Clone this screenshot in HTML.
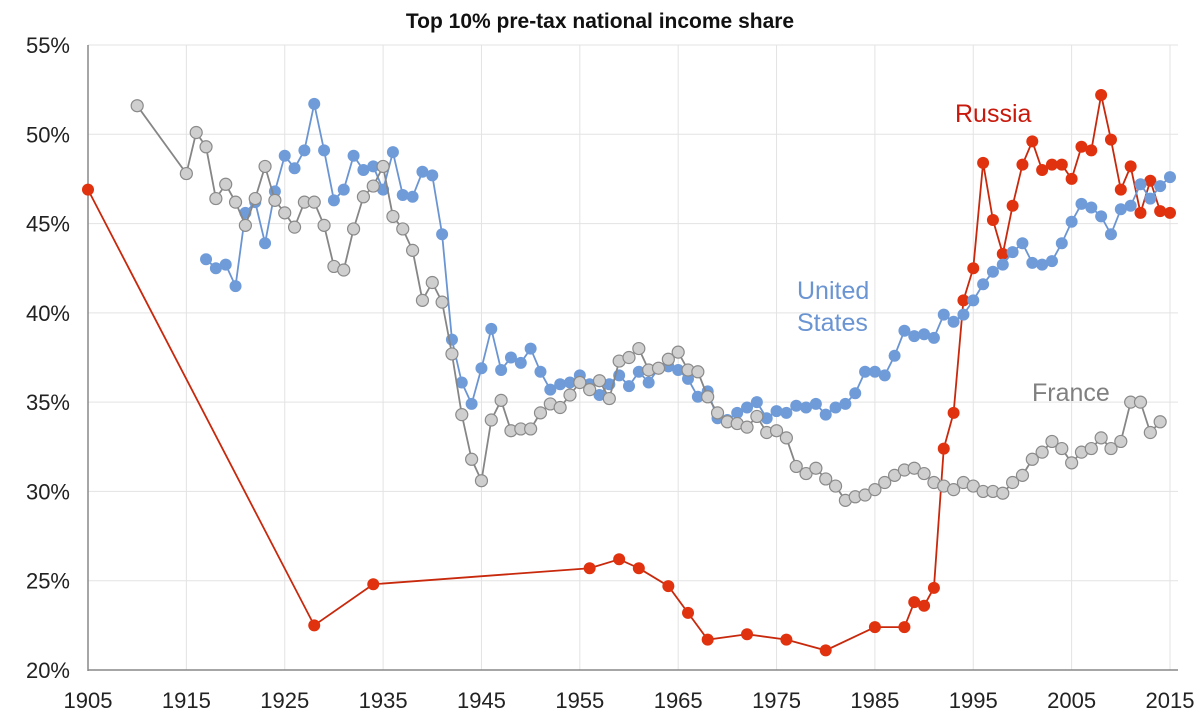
<!DOCTYPE html>
<html><head><meta charset="utf-8"><style>
html,body{margin:0;padding:0;background:#fff;}
svg{display:block;font-family:"Liberation Sans",Arial,sans-serif;}
</style></head><body>
<svg id="chart" width="1200" height="728" viewBox="0 0 1200 728">
<text x="600" y="28" text-anchor="middle" font-size="21" font-weight="bold" fill="#111">Top 10% pre-tax national income share</text>
<g id="grid"></g><g id="axes"></g><g id="series"></g>
<text x="955" y="122" font-size="25" fill="#c8190c">Russia</text>
<text x="797" y="299" font-size="25" fill="#6b95d2">United</text>
<text x="797" y="331" font-size="25" fill="#6b95d2">States</text>
<text x="1032" y="401" font-size="25" fill="#808080">France</text>
</svg>
<script>
const xTicks=[1905,1915,1925,1935,1945,1955,1965,1975,1985,1995,2005,2015];
const yTicks=[20,25,30,35,40,45,50,55];
const usYears=[1917,1918,1919,1920,1921,1922,1923,1924,1925,1926,1927,1928,1929,1930,1931,1932,1933,1934,1935,1936,1937,1938,1939,1940,1941,1942,1943,1944,1945,1946,1947,1948,1949,1950,1951,1952,1953,1954,1955,1956,1957,1958,1959,1960,1961,1962,1963,1964,1965,1966,1967,1968,1969,1970,1971,1972,1973,1974,1975,1976,1977,1978,1979,1980,1981,1982,1983,1984,1985,1986,1987,1988,1989,1990,1991,1992,1993,1994,1995,1996,1997,1998,1999,2000,2001,2002,2003,2004,2005,2006,2007,2008,2009,2010,2011,2012,2013,2014,2015];
const usValues=[43.0,42.5,42.7,41.5,45.6,46.2,43.9,46.8,48.8,48.1,49.1,51.7,49.1,46.3,46.9,48.8,48.0,48.2,46.9,49.0,46.6,46.5,47.9,47.7,44.4,38.5,36.1,34.9,36.9,39.1,36.8,37.5,37.2,38.0,36.7,35.7,36.0,36.1,36.5,36.0,35.4,36.0,36.5,35.9,36.7,36.1,36.9,37.0,36.8,36.3,35.3,35.6,34.1,34.0,34.4,34.7,35.0,34.1,34.5,34.4,34.8,34.7,34.9,34.3,34.7,34.9,35.5,36.7,36.7,36.5,37.6,39.0,38.7,38.8,38.6,39.9,39.5,39.9,40.7,41.6,42.3,42.7,43.4,43.9,42.8,42.7,42.9,43.9,45.1,46.1,45.9,45.4,44.4,45.8,46.0,47.2,46.4,47.1,47.6];
const frYears=[1910,1915,1916,1917,1918,1919,1920,1921,1922,1923,1924,1925,1926,1927,1928,1929,1930,1931,1932,1933,1934,1935,1936,1937,1938,1939,1940,1941,1942,1943,1944,1945,1946,1947,1948,1949,1950,1951,1952,1953,1954,1955,1956,1957,1958,1959,1960,1961,1962,1963,1964,1965,1966,1967,1968,1969,1970,1971,1972,1973,1974,1975,1976,1977,1978,1979,1980,1981,1982,1983,1984,1985,1986,1987,1988,1989,1990,1991,1992,1993,1994,1995,1996,1997,1998,1999,2000,2001,2002,2003,2004,2005,2006,2007,2008,2009,2010,2011,2012,2013,2014];
const frValues=[51.6,47.8,50.1,49.3,46.4,47.2,46.2,44.9,46.4,48.2,46.3,45.6,44.8,46.2,46.2,44.9,42.6,42.4,44.7,46.5,47.1,48.2,45.4,44.7,43.5,40.7,41.7,40.6,37.7,34.3,31.8,30.6,34.0,35.1,33.4,33.5,33.5,34.4,34.9,34.7,35.4,36.1,35.7,36.2,35.2,37.3,37.5,38.0,36.8,36.9,37.4,37.8,36.8,36.7,35.3,34.4,33.9,33.8,33.6,34.2,33.3,33.4,33.0,31.4,31.0,31.3,30.7,30.3,29.5,29.7,29.8,30.1,30.5,30.9,31.2,31.3,31.0,30.5,30.3,30.1,30.5,30.3,30.0,30.0,29.9,30.5,30.9,31.8,32.2,32.8,32.4,31.6,32.2,32.4,33.0,32.4,32.8,35.0,35.0,33.3,33.9];
const ruYears=[1905,1928,1934,1956,1959,1961,1964,1966,1968,1972,1976,1980,1985,1988,1989,1990,1991,1992,1993,1994,1995,1996,1997,1998,1999,2000,2001,2002,2003,2004,2005,2006,2007,2008,2009,2010,2011,2012,2013,2014,2015];
const ruValues=[46.9,22.5,24.8,25.7,26.2,25.7,24.7,23.2,21.7,22.0,21.7,21.1,22.4,22.4,23.8,23.6,24.6,32.4,34.4,40.7,42.5,48.4,45.2,43.3,46.0,48.3,49.6,48.0,48.3,48.3,47.5,49.3,49.1,52.2,49.7,46.9,48.2,45.6,47.4,45.7,45.6];

const X=y=>88+(y-1905)*(1170-88)/110;
const Y=v=>670-(v-20)*(670-45)/35;
const NS="http://www.w3.org/2000/svg";
function mk(tag,attrs,parent){const e=document.createElementNS(NS,tag);for(const k in attrs)e.setAttribute(k,attrs[k]);parent.appendChild(e);return e;}
const grid=document.getElementById('grid'),axes=document.getElementById('axes'),ser=document.getElementById('series');
yTicks.forEach(t=>{
  if(t>20){const l=mk('line',{x1:88,x2:1178,y1:Y(t),y2:Y(t),stroke:'#e3e3e3','stroke-width':1},grid);
  
  }
  const tx=mk('text',{x:70,y:Y(t)+8,'text-anchor':'end','font-size':22,fill:'#222'},axes);
  tx.textContent=t+'%';
  
  
});
xTicks.forEach(t=>{
  if(t>1905){const l=mk('line',{x1:X(t),x2:X(t),y1:45,y2:670,stroke:'#e3e3e3','stroke-width':1},grid);
  
  }
  const tx=mk('text',{x:X(t),y:708,'text-anchor':'middle','font-size':22,fill:'#222'},axes);
  tx.textContent=t;
  
  
});
const ya=mk('line',{x1:88,x2:88,y1:45,y2:671,stroke:'#888','stroke-width':1.5},axes);


const xa=mk('line',{x1:88,x2:1178,y1:670,y2:670,stroke:'#888','stroke-width':1.5},axes);



function series(name,years,vals,line,fill,stroke){
  const g=mk('g',{},ser);
  
  
  const pl=mk('polyline',{points:years.map((y,i)=>X(y)+','+Y(vals[i])).join(' '),fill:'none',stroke:line,'stroke-width':1.8},g);
  
  
  years.forEach((y,i)=>{
    const c=mk('circle',{cx:X(y),cy:Y(vals[i]),r:6,fill:fill,stroke:stroke,'stroke-width':stroke==='none'?0:1.2},g);
    
    
  });
}
series('russia',ruYears,ruValues,'#c8290c','#e0320e','none');
series('us',usYears,usValues,'#6b95d2','#6f9bd8','none');
series('france',frYears,frValues,'#868686','#cfcfcf','#8a8a8a');
</script>
</body></html>
